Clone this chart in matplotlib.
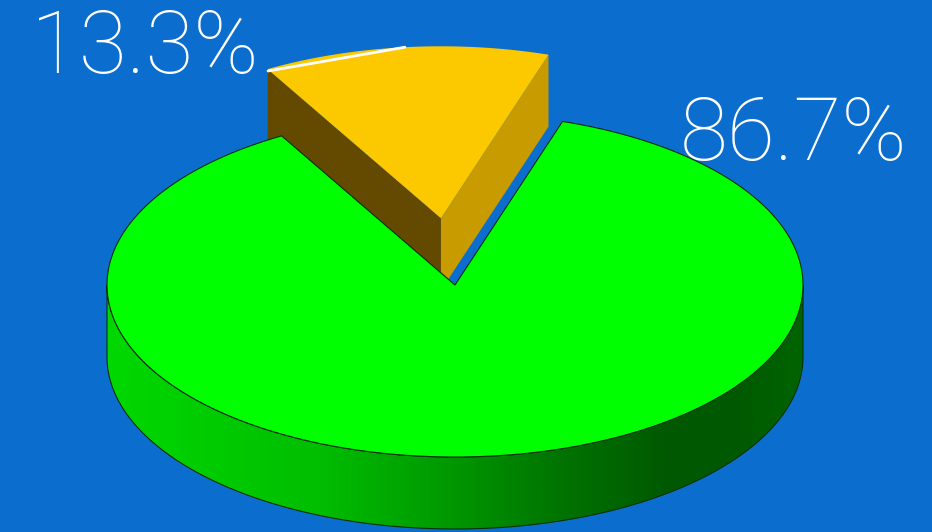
import numpy as np
import matplotlib.pyplot as plt
from matplotlib.patches import Polygon
from matplotlib.colors import LinearSegmentedColormap

# ==========================================
# DATA
# ==========================================
labels = ['13.3%', '86.7%']
values = [13.3, 86.7]
top_colors = ['#fcc800', '#00ff00']
left_face_colors = ['#634a00', '#006000']
right_face_colors = ['#c89b00', '#008000']
explode = [0.39, 0.0]

# ==========================================
# LAYOUT (pixel space of the 932x532 picture)
# ==========================================
BG = '#0b6ecf'
CX, CY = 455, 285          # centre of top ellipse
RX, RY = 348, 172          # ellipse radii
DEPTH = 72                 # thickness of the pie
START = 72.0               # angle where the first slice starts (deg, ccw)

label_pos = [(259, 73, 'right'), (680, 160, 'left')]
leader_end = (268, 71)


def ell(cx, cy, theta_deg, dy=0):
    t = np.radians(theta_deg)
    return cx + RX * np.cos(t), cy - RY * np.sin(t) + dy


fig = plt.figure(figsize=(9.32, 5.32), dpi=100)
fig.patch.set_facecolor(BG)
ax = fig.add_axes([0, 0, 1, 1])
ax.set_xlim(0, 932)
ax.set_ylim(532, 0)
ax.axis('off')

# slice angles from values
total = sum(values)
spans = [v / total * 360.0 for v in values]
starts = [START + sum(spans[:i]) for i in range(len(values))]

# ---- the small exploded slice (drawn first, it sits behind) ----
for i in range(len(values)):
    if explode[i] == 0:
        continue
    a0, a1 = starts[i], starts[i] + spans[i]
    mid = np.radians((a0 + a1) / 2)
    cx = CX + explode[i] * RX * np.cos(mid)
    cy = CY - explode[i] * RY * np.sin(mid)

    # radial face at end angle (left, dark)
    px, py = ell(cx, cy, a1)
    ax.add_patch(Polygon([(cx, cy), (px, py), (px, py + DEPTH), (cx, cy + DEPTH)],
                         closed=True, facecolor=left_face_colors[i], edgecolor='none', zorder=2))
    # radial face at start angle (right, lit)
    px, py = ell(cx, cy, a0)
    ax.add_patch(Polygon([(cx, cy), (px, py), (px, py + DEPTH), (cx, cy + DEPTH)],
                         closed=True, facecolor=right_face_colors[i], edgecolor='none', zorder=2))
    # top face
    th = np.linspace(a0, a1, 80)
    xs, ys = ell(cx, cy, th)
    pts = [(cx, cy)] + list(zip(xs, ys))
    ax.add_patch(Polygon(pts, closed=True, facecolor=top_colors[i], edgecolor='none', zorder=3))

    # leader line from mid arc to label
    mx, my = ell(cx, cy, np.degrees(mid))
    ax.plot([mx, leader_end[0]], [my, leader_end[1]], color='white', lw=2, zorder=4,
            solid_capstyle='round')

# ---- the big slice ----
for i in range(len(values)):
    if explode[i] != 0:
        continue
    a0, a1 = starts[i], starts[i] + spans[i]

    # outer wall, front half only, with a left-to-right shading
    th = np.linspace(180, 360, 200)
    xs, ys = ell(CX, CY, th)
    wall = list(zip(xs, ys)) + list(zip(xs[::-1], ys[::-1] + DEPTH))
    wall_patch = Polygon(wall, closed=True, facecolor='none', edgecolor='#0a300a',
                         lw=0.8, zorder=5)
    ax.add_patch(wall_patch)
    cmap = LinearSegmentedColormap.from_list('wall', [
        (0.0, '#00d800'), (0.3, '#00be00'), (0.5, '#009600'),
        (0.65, '#007400'), (0.8, '#005a00'), (0.9, '#005800'), (1.0, '#006400')])
    grad = np.linspace(0, 1, 400).reshape(1, -1)
    im = ax.imshow(grad, cmap=cmap, aspect='auto', zorder=4,
                   extent=[CX - RX, CX + RX, CY + RY + DEPTH + 2, CY - 2])
    im.set_clip_path(wall_patch)

    # top face
    th = np.linspace(a0, a1, 400)
    xs, ys = ell(CX, CY, th)
    pts = [(CX, CY)] + list(zip(xs, ys))
    ax.add_patch(Polygon(pts, closed=True, facecolor=top_colors[i], edgecolor='#0a300a',
                         lw=0.8, zorder=6))

# ---- labels ----
for lab, (x, y, ha) in zip(labels, label_pos):
    ax.text(x, y, lab, color='white', fontsize=63, family='Roboto', fontweight='light',
            ha=ha, va='baseline', zorder=7)

fig.savefig('out.png', dpi=100, facecolor=BG)
